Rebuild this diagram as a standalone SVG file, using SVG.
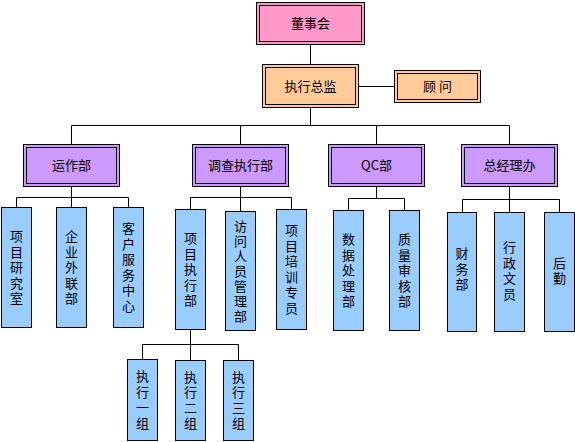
<svg xmlns="http://www.w3.org/2000/svg" width="575" height="442" viewBox="0 0 575 442">
<style>
rect{stroke:#000;stroke-width:1}
.pink{fill:#FF99CC}
.orange{fill:#FFCC99}
.purple{fill:#CC99FF}
.blue{fill:#99CCFF}
.inner{fill:none}
text{font-family:"Noto Sans CJK SC","Liberation Sans",sans-serif;font-size:13px;fill:#000;text-anchor:middle}
.v{writing-mode:vertical-rl;text-orientation:upright;letter-spacing:2.5px}
.v7{letter-spacing:2px}
#connectors path{fill:none;stroke:#000;stroke-width:1}
</style>
<g id="connectors">
<path d="M310.5 44.5V64.5"/>
<path d="M358.5 86.5H394.5"/>
<path d="M310.5 107.5V125.5"/>
<path d="M71.5 144.5V125.5H509.5V144.5M240.5 125.5V144.5M376.5 125.5V144.5"/>
<path d="M71.5 186.5V197.5M16.5 207.5V197.5H128.5V207.5M71.5 197.5V207.5"/>
<path d="M240.5 186.5V211.5M190.5 209.5V197.5H291.5V209.5"/>
<path d="M376.5 186.5V198.5M348.5 210.5V198.5H404.5V210.5"/>
<path d="M509.5 186.5V212.5M462.5 212.5V199.5H559.5V212.5"/>
<path d="M190.5 329.5V360.5M142.5 359.5V344.5H238.5V360.5"/>
</g>
<g id="n-board">
<rect class="pink" x="256.5" y="2.5" width="108" height="42"/>
<rect class="inner" x="259.5" y="5.5" width="102" height="36"/>
<text x="310.5" y="28">董事会</text>
</g>
<g id="n-director">
<rect class="orange" x="262.5" y="64.5" width="96" height="43"/>
<rect class="inner" x="265.5" y="67.5" width="90" height="37"/>
<text x="310.5" y="91">执行总监</text>
</g>
<g id="n-advisor">
<rect class="orange" x="394.5" y="70.5" width="86" height="32"/>
<rect class="inner" x="397.5" y="73.5" width="80" height="26"/>
<text x="437.5" y="91" xml:space="preserve">顾 问</text>
</g>
<g id="n-ops">
<rect class="purple" x="23.5" y="144.5" width="96" height="42"/>
<rect class="inner" x="26.5" y="147.5" width="90" height="36"/>
<text x="71.5" y="170">运作部</text>
</g>
<g id="n-research">
<rect class="purple" x="192.5" y="144.5" width="96" height="42"/>
<rect class="inner" x="195.5" y="147.5" width="90" height="36"/>
<text x="240.5" y="170">调查执行部</text>
</g>
<g id="n-qc">
<rect class="purple" x="328.5" y="144.5" width="96" height="42"/>
<rect class="inner" x="331.5" y="147.5" width="90" height="36"/>
<text x="376.5" y="170">QC部</text>
</g>
<g id="n-gm">
<rect class="purple" x="461.5" y="144.5" width="96" height="42"/>
<rect class="inner" x="464.5" y="147.5" width="90" height="36"/>
<text x="509.5" y="170">总经理办</text>
</g>
<g id="n-c1">
<rect class="blue" x="1.5" y="207.5" width="30" height="120"/>
<text class="v" x="16.5" y="268.5">项目研究室</text>
</g>
<g id="n-c2">
<rect class="blue" x="56.5" y="207.5" width="30" height="120"/>
<text class="v" x="71.5" y="268.5">企业外联部</text>
</g>
<g id="n-c3">
<rect class="blue" x="113.5" y="207.5" width="30" height="120"/>
<text class="v" x="128.5" y="268.5">客户服务中心</text>
</g>
<g id="n-c4">
<rect class="blue" x="175.5" y="209.5" width="30" height="120"/>
<text class="v" x="190.5" y="270.5">项目执行部</text>
</g>
<g id="n-c5">
<rect class="blue" x="225.5" y="211.5" width="30" height="119"/>
<text class="v v7" x="240.5" y="272">访问人员管理部</text>
</g>
<g id="n-c6">
<rect class="blue" x="276.5" y="209.5" width="30" height="120"/>
<text class="v" x="291.5" y="270.5">项目培训专员</text>
</g>
<g id="n-c7">
<rect class="blue" x="333.5" y="210.5" width="30" height="120"/>
<text class="v" x="348.5" y="271.5">数据处理部</text>
</g>
<g id="n-c8">
<rect class="blue" x="389.5" y="210.5" width="30" height="120"/>
<text class="v" x="404.5" y="271.5">质量审核部</text>
</g>
<g id="n-c9">
<rect class="blue" x="447.5" y="212.5" width="29" height="119"/>
<text class="v" x="462" y="270">财务部</text>
</g>
<g id="n-c10">
<rect class="blue" x="494.5" y="212.5" width="30" height="119"/>
<text class="v" x="509.5" y="272">行政文员</text>
</g>
<g id="n-c11">
<rect class="blue" x="544.5" y="212.5" width="30" height="119"/>
<text class="v" x="559.5" y="272">后勤</text>
</g>
<g id="n-g1">
<rect class="blue" x="127.5" y="359.5" width="30" height="81"/>
<text class="v" x="142.5" y="401">执行一组</text>
</g>
<g id="n-g2">
<rect class="blue" x="175.5" y="360.5" width="30" height="80"/>
<text class="v" x="190.5" y="401.5">执行二组</text>
</g>
<g id="n-g3">
<rect class="blue" x="223.5" y="360.5" width="30" height="80"/>
<text class="v" x="238.5" y="401.5">执行三组</text>
</g>
</svg>
